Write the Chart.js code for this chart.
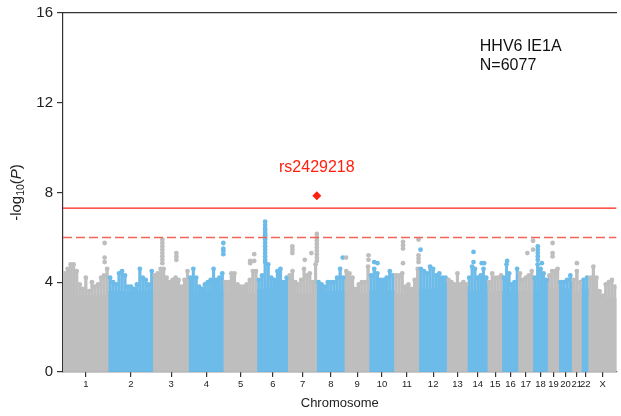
<!DOCTYPE html>
<html>
<head>
<meta charset="utf-8">
<script src="https://cdn.jsdelivr.net/npm/chart.js@4.4.1/dist/chart.umd.min.js"></script>
<style>
  html, body { margin: 0; padding: 0; background: #fff; }
</style>
</head>
<body>
<canvas id="manhattan" width="621" height="416"></canvas>
<script>
// Chromosomes and the span (Mb) each one takes on the genome axis
const chromNames = ['1', '2', '3', '4', '5', '6', '7', '8', '9', '10', '11', '12',
    '13', '14', '15', '16', '17', '18', '19', '20', '21', '22', 'X'];
const chromSpanMb = [250, 244, 196, 190, 185, 168, 158, 152, 136, 136, 136, 152,
    114, 109, 81, 87, 81, 81, 60, 71, 54, 38, 152];

// -log10(P) below which the SNP cloud is solid, per chromosome
const chromFloorLogP = [3.4, 3.6, 3.5, 3.6, 3.5, 3.7, 3.5, 3.6, 3.5, 3.6, 3.5, 3.7,
    3.5, 3.6, 3.6, 3.6, 3.6, 3.6, 3.7, 3.7, 3.6, 3.7, 3.3];

// Top -log10(P) of the SNP cloud in equal bins along each chromosome
const binTopLogP = [
    [4.4, 4.6, 4.8, 4.8, 4.5, 3.9, 3.7, 4.2, 3.6, 4.0, 3.8, 3.9, 4.2, 4.3, 4.6],
    [4.2, 4.0, 3.9, 4.4, 4.5, 4.3, 3.8, 3.8, 3.7, 3.9, 4.6, 4.2, 4.1, 3.9, 4.5],
    [4.3, 4.4, 4.6, 4.6, 4.2, 4.0, 4.1, 4.2, 4.1, 3.8, 4.1, 4.5],
    [4.2, 4.6, 4.2, 3.8, 3.7, 3.9, 4.0, 4.1, 4.6, 4.1, 4.2, 4.4],
    [4.0, 4.0, 4.4, 4.4, 3.9, 3.8, 3.8, 3.9, 4.1, 4.5, 4.5],
    [4.1, 4.3, 4.9, 4.8, 4.2, 4.1, 4.5, 4.6, 4.0, 4.2],
    [4.3, 4.5, 4.0, 3.9, 4.1, 4.6, 4.3, 4.4, 4.0, 4.8],
    [4.0, 3.9, 3.8, 4.0, 4.0, 4.0, 4.2, 4.6, 4.2],
    [4.5, 4.4, 4.2, 3.7, 3.9, 4.0, 4.0, 4.7],
    [4.3, 4.6, 4.4, 4.1, 4.1, 4.2, 4.5, 4.3],
    [4.3, 4.3, 4.4, 3.8, 3.9, 3.7, 4.1, 4.6],
    [4.6, 4.5, 4.4, 4.7, 4.6, 4.3, 4.4, 4.2, 4.2],
    [4.1, 4.0, 3.9, 4.4, 3.9, 4.0, 3.9],
    [4.2, 4.7, 4.6, 4.2, 4.3, 4.6, 4.2],
    [4.0, 4.4, 4.2, 4.2, 4.3],
    [4.2, 4.8, 4.4, 3.9, 4.0, 4.6],
    [4.4, 4.1, 4.2, 4.3, 4.5],
    [4.2, 4.8, 4.6, 4.4, 4.1],
    [4.3, 4.5, 4.5, 4.6],
    [4.0, 4.0, 4.1, 4.3],
    [4.1, 4.5, 4.0],
    [4.1, 4.2],
    [4.2, 4.7, 4.2, 3.6, 3.4, 3.9, 4.0, 4.1, 3.8]
];

// Individual SNPs standing above the cloud
const hitChr = [1, 1, 1,
    3, 3, 3, 3, 3, 3, 3, 3, 3, 3, 3,
    4, 4, 4, 4,
    5, 5, 5, 5,
    6, 6, 6, 6, 6, 6, 6, 6, 6, 6, 6, 6, 6, 6,
    7, 7, 7, 7, 7, 7, 7, 7, 7, 7, 7, 7, 7, 7,
    8, 9, 9, 9, 10, 10,
    11, 11, 11, 11, 11, 11, 11, 11,
    12, 14, 14, 14, 14, 16, 17, 17, 17,
    18, 18, 18, 18, 18, 18, 19, 19, 19, 21];
const hitPosMb = [228, 228, 228,
    50, 50, 50, 50, 50, 50, 50, 50, 127, 127, 127,
    188, 188, 188, 188,
    145, 145, 167, 167,
    42, 42, 42, 42, 42, 42, 42, 42, 42, 42, 42, 42, 42, 42,
    23, 23, 23, 91, 127, 157, 157, 157, 157, 157, 157, 157, 157, 157,
    141, 7, 130, 130, 25, 43,
    47, 47, 47, 47, 132, 132, 132, 132,
    7, 31, 31, 76, 89, 25, 49, 80, 80,
    25, 25, 25, 25, 25, 47, 25, 25, 25, 27];
const hitLogP = [5.75, 5.1, 4.9,
    5.9, 5.75, 5.6, 5.45, 5.3, 5.15, 5.0, 4.85, 5.3, 5.15, 5.0,
    5.75, 5.5, 5.4, 5.25,
    4.95, 4.85, 5.25, 4.95,
    6.7, 6.55, 6.4, 6.3, 6.2, 6.1, 6.0, 5.9, 5.75, 5.6, 5.45, 5.3, 5.15, 5.0,
    5.6, 5.45, 5.3, 5.0, 5.3, 6.15, 6.0, 5.85, 5.7, 5.55, 5.4, 5.25, 5.1, 4.95,
    5.1, 5.1, 5.2, 5.0, 4.9, 4.85,
    5.8, 5.65, 5.5, 4.85, 5.9, 5.2, 5.05, 4.9,
    5.45, 5.35, 4.9, 4.85, 4.85, 4.95, 5.3, 5.85, 5.45,
    5.6, 5.45, 5.3, 5.15, 5.0, 4.85, 5.75, 5.3, 5.15, 4.85];

// Lead variant and significance thresholds
const leadSnp = 'rs2429218';
const leadChr = 7;
const leadPosMb = 157;
const leadLogP = 7.85;
const genomeWideLogP = 7.3;
const suggestiveLogP = 6;
const yTicks = [0, 4, 8, 12, 16];
const panelLines = ['HHV6 IE1A', 'N=6077'];

const GRAY = '#bebebe';
const BLUE = '#6dbbe9';
const RED = '#ff2010';
const AXIS = '#333333';
const FONT = "'Liberation Sans', Arial, sans-serif";

const chromStart = [];
let total = 0;
chromSpanMb.forEach(len => { chromStart.push(total); total += len; });
const chromMid = chromSpanMb.map((len, i) => chromStart[i] + len / 2);
const colorFor = c => (c % 2 === 0 ? GRAY : BLUE);

// one entry per bin: its top, the solid part under it, and its colour
const cloudTop = [];
const cloudFloor = [];
const cloudColors = [];
binTopLogP.forEach((bins, c) => {
    const step = chromSpanMb[c] / bins.length;
    bins.forEach((v, i) => {
        const x = chromStart[c] + (i + 0.5) * step;
        cloudTop.push({ x, y: v });
        cloudFloor.push({ x, y: Math.min(v, chromFloorLogP[c]) });
        cloudColors.push(colorFor(c));
    });
});

const hits = hitChr.map((c, i) => ({ x: chromStart[c - 1] + hitPosMb[i], y: hitLogP[i] }));
const hitColors = hitChr.map(c => colorFor(c - 1));
const lead = [{ x: chromStart[leadChr - 1] + leadPosMb, y: leadLogP }];

// Axis title with subscript, the lead SNP label and the panel text
const annotations = {
    id: 'annotations',
    afterDraw(chart) {
        const { ctx, chartArea, scales } = chart;
        ctx.save();

        // -log10(P)
        const big = '15px ' + FONT;
        const small = '10.5px ' + FONT;
        const italic = 'italic 15px ' + FONT;
        const parts = [['-log', big, 0], ['10', small, 4], ['(', big, 0], ['P', italic, 0], [')', big, 0]];
        let w = 0;
        parts.forEach(p => { ctx.font = p[1]; w += ctx.measureText(p[0]).width; });
        ctx.translate(17, (chartArea.top + chartArea.bottom) / 2);
        ctx.rotate(-Math.PI / 2);
        ctx.fillStyle = '#222';
        ctx.textBaseline = 'middle';
        ctx.textAlign = 'left';
        let x = -w / 2;
        parts.forEach(p => {
            ctx.font = p[1];
            ctx.fillText(p[0], x, p[2]);
            x += ctx.measureText(p[0]).width;
        });
        ctx.restore();

        ctx.save();
        ctx.font = '16px ' + FONT;
        ctx.fillStyle = RED;
        ctx.textAlign = 'center';
        ctx.textBaseline = 'middle';
        ctx.fillText(leadSnp, scales.x.getPixelForValue(lead[0].x), scales.y.getPixelForValue(leadLogP) - 28);

        ctx.fillStyle = '#111';
        ctx.textAlign = 'left';
        const px = chartArea.left + (chartArea.right - chartArea.left) * 0.753;
        panelLines.forEach((t, i) => ctx.fillText(t, px, chartArea.top + 34 + i * 19));
        ctx.restore();
    }
};

new Chart(document.getElementById('manhattan'), {
    type: 'bar',
    data: {
        datasets: [
            {
                type: 'line',
                data: [{ x: 0, y: genomeWideLogP }, { x: total, y: genomeWideLogP }],
                borderColor: RED,
                borderWidth: 1.3,
                pointRadius: 0,
                order: 0
            },
            {
                type: 'line',
                data: [{ x: 0, y: suggestiveLogP }, { x: total, y: suggestiveLogP }],
                borderColor: '#f26458',
                borderWidth: 1.5,
                borderDash: [9, 4],
                pointRadius: 0,
                order: 0
            },
            {
                type: 'scatter',
                data: lead,
                pointStyle: 'rectRot',
                pointRadius: 4.5,
                pointBackgroundColor: RED,
                pointBorderWidth: 0,
                order: 0
            },
            {
                type: 'scatter',
                data: hits,
                pointRadius: 2.4,
                pointBackgroundColor: hitColors,
                pointBorderWidth: 0,
                order: 2
            },
            {
                type: 'scatter',
                data: cloudTop,
                pointRadius: 2.4,
                pointBackgroundColor: cloudColors,
                pointBorderWidth: 0,
                order: 3
            },
            {
                // strands rising out of the solid cloud
                type: 'bar',
                stack: 'cloud',
                data: cloudTop,
                backgroundColor: cloudColors,
                borderWidth: 0,
                barThickness: 'flex',
                categoryPercentage: 1,
                barPercentage: 0.85,
                order: 4
            },
            {
                type: 'bar',
                stack: 'cloud',
                data: cloudFloor,
                backgroundColor: cloudColors,
                borderWidth: 0,
                barThickness: 'flex',
                categoryPercentage: 1,
                barPercentage: 1.3,
                order: 5
            }
        ]
    },
    options: {
        responsive: false,
        animation: false,
        devicePixelRatio: 1,
        layout: { padding: 0 },
        plugins: { legend: { display: false }, tooltip: { enabled: false } },
        scales: {
            x: {
                type: 'linear',
                position: 'bottom',
                min: 0,
                max: total,
                offset: false,
                stacked: true,
                grid: { display: true, drawOnChartArea: false, offset: false, tickLength: 5, color: AXIS, lineWidth: 1.2 },
                border: { display: true, color: AXIS, width: 1.2 },
                ticks: {
                    autoSkip: false,
                    maxRotation: 0,
                    padding: 2,
                    color: '#222',
                    font: { family: FONT, size: 9.5 },
                    callback: (v, i) => chromNames[i]
                },
                afterBuildTicks: s => { s.ticks = chromMid.map(v => ({ value: v })); },
                afterFit: s => { s.height = 44; },
                title: {
                    display: true,
                    text: 'Chromosome',
                    color: '#222',
                    font: { family: FONT, size: 13 },
                    padding: { top: 0, bottom: 5 }
                }
            },
            top: {
                type: 'linear',
                position: 'top',
                min: 0,
                max: total,
                grid: { display: false },
                ticks: { display: false },
                border: { display: true, color: AXIS, width: 1.2 },
                afterFit: s => { s.height = 13; }
            },
            y: {
                type: 'linear',
                min: 0,
                max: 16,
                stacked: false,
                grid: { display: true, drawOnChartArea: false, tickLength: 6, color: AXIS, lineWidth: 1.2 },
                border: { display: true, color: AXIS, width: 1.2 },
                ticks: {
                    padding: 4,
                    color: '#222',
                    font: { family: FONT, size: 15 }
                },
                afterBuildTicks: s => { s.ticks = yTicks.map(v => ({ value: v })); },
                afterFit: s => { s.width = 63; }
            }
        }
    },
    plugins: [annotations]
});
</script>
</body>
</html>
